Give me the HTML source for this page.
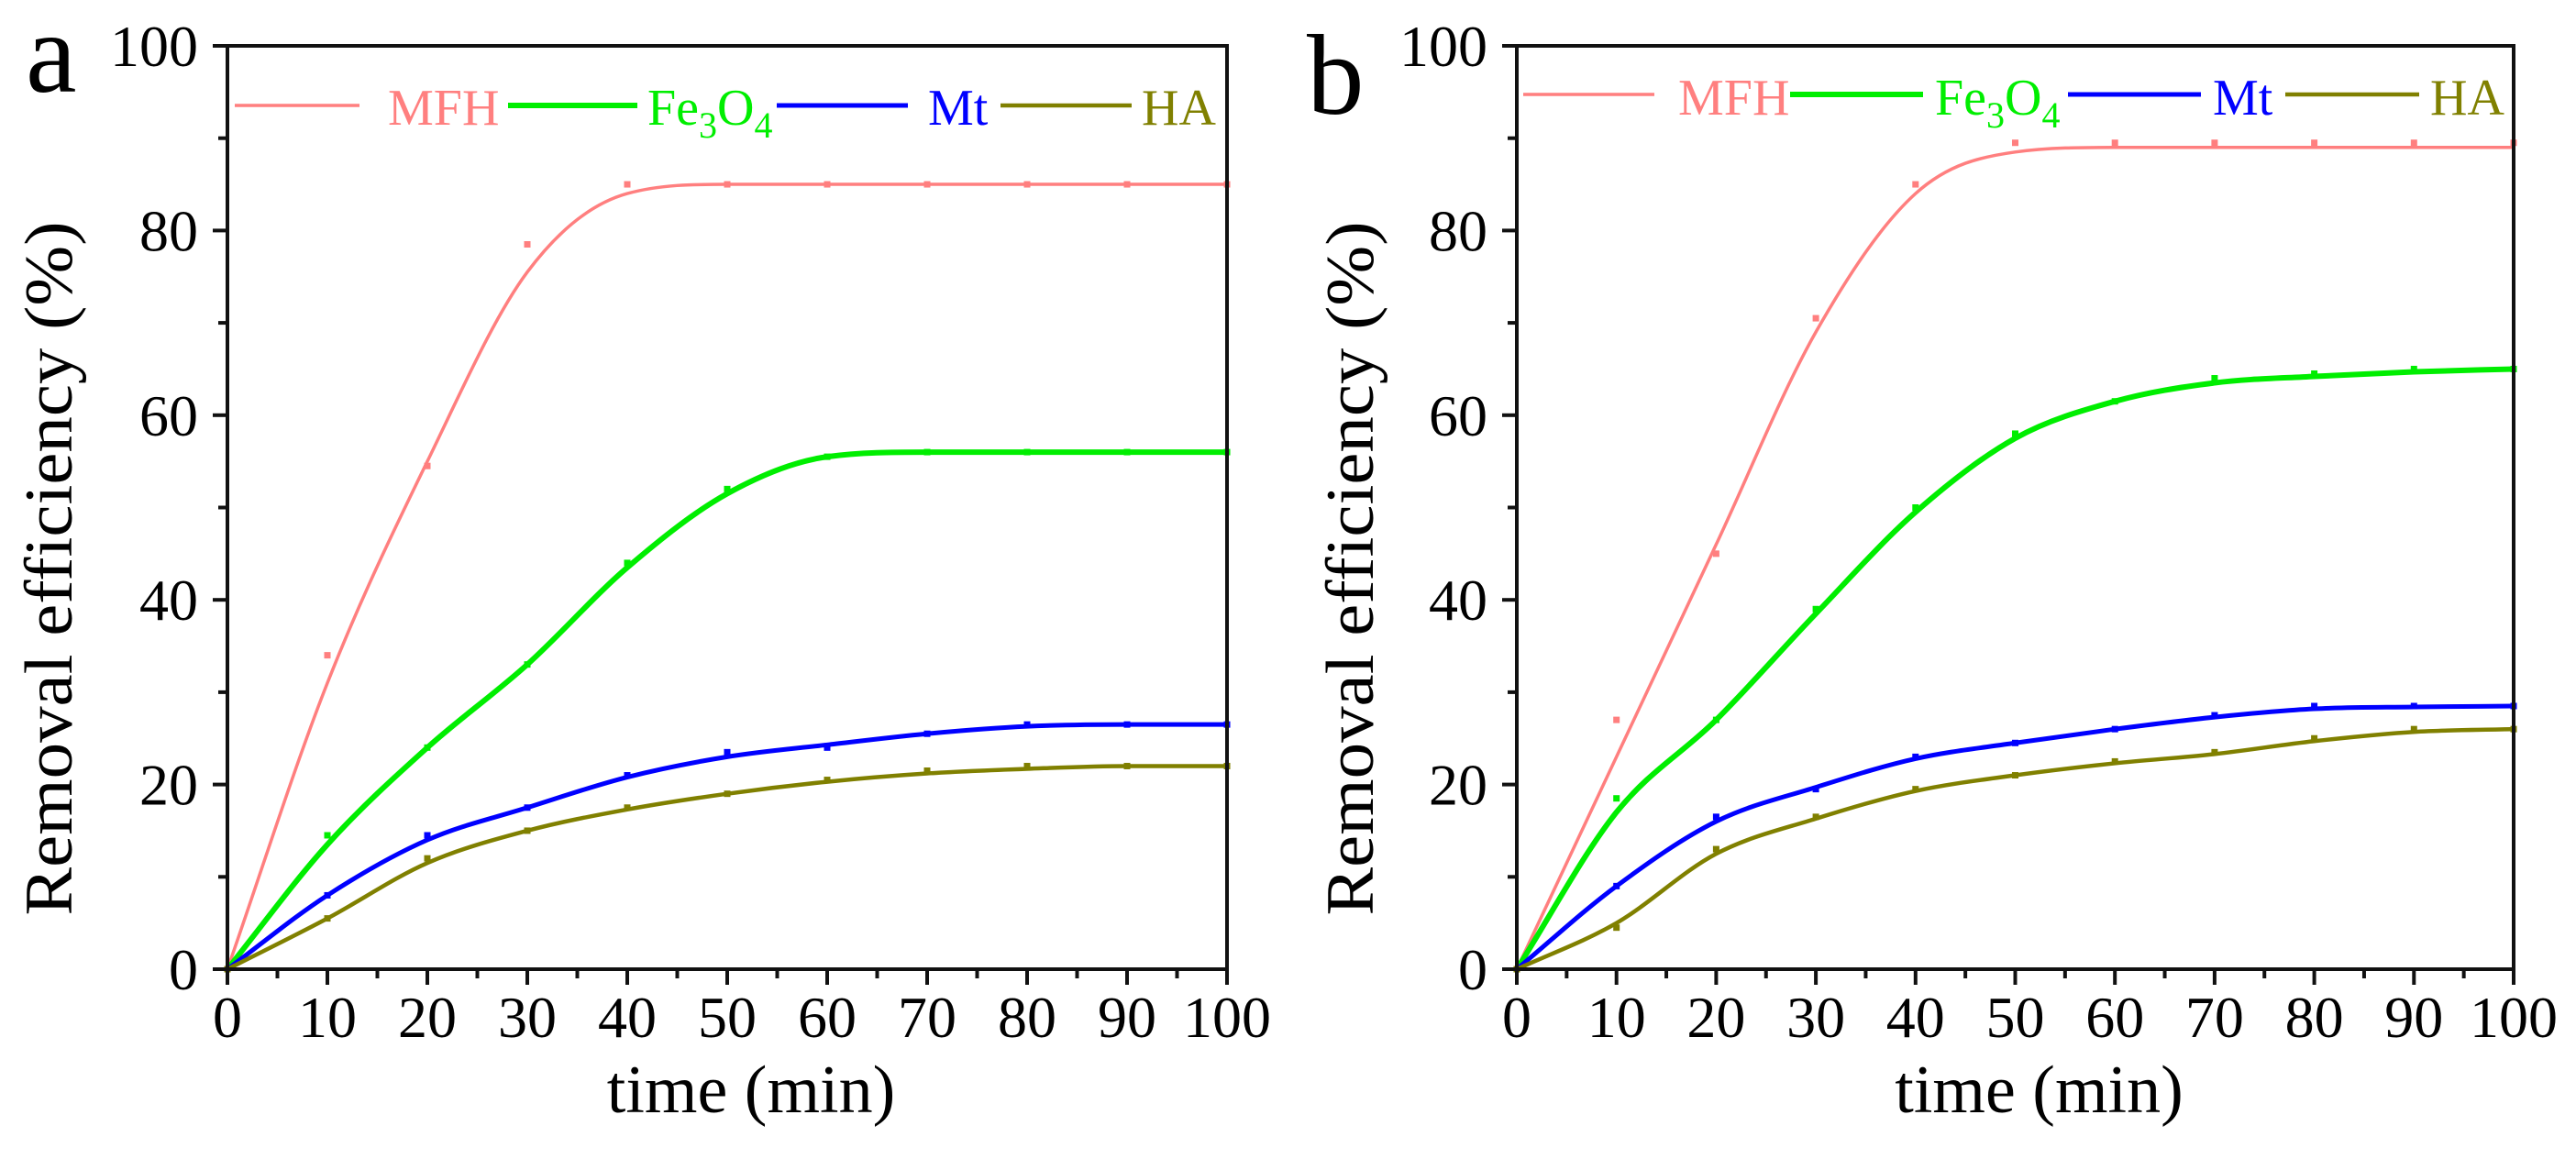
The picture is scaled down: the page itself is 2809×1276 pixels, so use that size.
<!DOCTYPE html>
<html><head><meta charset="utf-8"><style>
html,body{margin:0;padding:0;background:#fff}
svg{display:block}
text{font-family:"Liberation Serif",serif}
</style></head><body>
<svg id="fig" width="2809" height="1276" xmlns="http://www.w3.org/2000/svg">
<rect width="2809" height="1276" fill="#fff"/>
</svg>
<script>
const times=[0,10,20,30,40,50,60,70,80,90,100];
// measured points
const aMFH=[0,34,54.5,78.5,85,85,85,85,85,85,85];
const aFe=[0,14.5,24,33,44,52,55.5,56,56,56,56];
const aMt=[0,8,14.5,17.5,21,23.5,24,25.5,26.5,26.5,26.5];
const aHA=[0,5.5,12,15,17.5,19,20.5,21.5,22,22,22];
const bMFH=[0,27,45,70.5,85,89.5,89.5,89.5,89.5,89.5,89.5];
const bFe=[0,18.5,27,39,50,58,61.5,64,64.5,65,65];
const bMt=[0,9,16.5,19.5,23,24.5,26,27.5,28.5,28.5,28.5];
const bHA=[0,4.5,13,16.5,19.5,21,22.5,23.5,25,26,26];
// fitted curves
const aMFHfit=[0,31,55,75.5,84,85,85,85,85,85,85];
const aFefit=[0,13.5,24,33,43.5,51.5,55.5,56,56,56,56];
const aMtfit=[0,8,14,17.5,20.8,23,24.3,25.5,26.3,26.5,26.5];
const aHAfit=[0,5.5,11.5,15,17.3,19,20.3,21.2,21.7,22,22];
const bMFHfit=[0,23,46,69,84,88.5,89,89,89,89,89];
const bFefit=[0,17,27,38.5,49.5,57.5,61.5,63.5,64.2,64.7,65];
const bMtfit=[0,9,16,19.7,22.8,24.5,26,27.3,28.2,28.4,28.5];
const bHAfit=[0,5,12.5,16.3,19.3,21,22.3,23.3,24.7,25.7,26];
const xTicks=[0,10,20,30,40,50,60,70,80,90,100];
const yTicks=[0,20,40,60,80,100];
const seriesNames=["MFH","Fe3O4","Mt","HA"];

const NS="http://www.w3.org/2000/svg";
const svg=document.getElementById('fig');
function mk(tag,attrs,parent){const e=document.createElementNS(NS,tag);for(const k in attrs)e.setAttribute(k,attrs[k]);(parent||svg).appendChild(e);return e;}

const colors=["#ff7f7f","#00ee00","#0000ff","#808000"];
const widths=[3.5,6,5,4.5];
const panels=[
 {id:'a',x0:248,x1:1338,y0:1057,y1:50,data:[aMFH,aFe,aMt,aHA],fit:[aMFHfit,aFefit,aMtfit,aHAfit],letterX:28,letterY:100,ylabX:78,
  leg:{y:115,tb:136,items:[[256,392,423],[554,695,706],[847,990,1012],[1091,1234,1245]]}},
 {id:'b',x0:1654,x1:2741,y0:1057,y1:50,data:[bMFH,bFe,bMt,bHA],fit:[bMFHfit,bFefit,bMtfit,bHAfit],letterX:1425,letterY:124,ylabX:1497,
  leg:{y:103,tb:125,items:[[1661,1804,1830],[1952,2097,2110],[2255,2400,2413],[2492,2638,2650]]}}
];

// monotone cubic (Fritsch-Carlson)
function monoPath(pts){
  const n=pts.length,dx=[],s=[],m=[];
  for(let i=0;i<n-1;i++){dx[i]=pts[i+1][0]-pts[i][0];s[i]=(pts[i+1][1]-pts[i][1])/dx[i];}
  m[0]=s[0];m[n-1]=s[n-2];
  for(let i=1;i<n-1;i++){m[i]=(s[i-1]*s[i]<=0)?0:(s[i-1]+s[i])/2;}
  for(let i=0;i<n-1;i++){
    if(s[i]===0){m[i]=0;m[i+1]=0;continue;}
    const a=m[i]/s[i],b=m[i+1]/s[i],h=a*a+b*b;
    if(h>9){const t=3/Math.sqrt(h);m[i]=t*a*s[i];m[i+1]=t*b*s[i];}
  }
  let d=`M${pts[0][0]},${pts[0][1]}`;
  for(let i=0;i<n-1;i++){
    const h=dx[i]/3;
    d+=` C${pts[i][0]+h},${pts[i][1]+m[i]*h} ${pts[i+1][0]-h},${pts[i+1][1]-m[i+1]*h} ${pts[i+1][0]},${pts[i+1][1]}`;
  }
  return d;
}

panels.forEach(p=>{
  const g=mk('g',{});
  
  
  const X=v=>p.x0+(v/100)*(p.x1-p.x0);
  const Y=v=>p.y0-(v/100)*(p.y0-p.y1);
  const L=mk('text',{x:p.letterX,y:p.letterY,'font-size':125},g);L.textContent=p.id;
  
  
  p.data.forEach((arr,si)=>{
    const fpts=times.map((t,i)=>[X(t),Y(p.fit[si][i])]);
    const path=mk('path',{d:monoPath(fpts),fill:'none',stroke:colors[si],'stroke-width':widths[si],'stroke-linejoin':'round'},g);
    
    
    times.forEach((t,i)=>{
      const c=mk('rect',{x:X(t)-3.5,y:Y(arr[i])-3.5,width:7,height:7,fill:colors[si]},g);
      
      
    });
  });
  const fr=mk('rect',{x:p.x0,y:p.y1,width:p.x1-p.x0,height:p.y0-p.y1,fill:'none',stroke:'#111','stroke-width':4},g);
  
  
  for(let v=0;v<=100;v+=10){
    const major=v%20===0;
    const t=mk('line',{x1:p.x0-(major?16:10),x2:p.x0,y1:Y(v),y2:Y(v),stroke:'#111','stroke-width':4},g);
    
    
  }
  yTicks.forEach(v=>{
    const t=mk('text',{x:p.x0-32,y:Y(v)+22,'font-size':64,'text-anchor':'end'},g);t.textContent=v;
    
    
  });
  for(let v=0;v<=100;v+=5){
    const major=v%10===0;
    const t=mk('line',{x1:X(v),x2:X(v),y1:p.y0,y2:p.y0+(major?17:10),stroke:'#111','stroke-width':4},g);
    
    
  }
  xTicks.forEach(v=>{
    const t=mk('text',{x:X(v),y:1131,'font-size':64,'text-anchor':'middle'},g);t.textContent=v;
    
    
  });
  const yl=mk('text',{x:p.ylabX,y:620,'font-size':74,'text-anchor':'middle',transform:`rotate(-90 ${p.ylabX} 620)`,textLength:757,lengthAdjust:'spacingAndGlyphs'},g);
  yl.textContent='Removal efficiency (%)';
  
  
  const xl=mk('text',{x:(p.x0+p.x1)/2+26,y:1213,'font-size':74,'text-anchor':'middle'},g);
  xl.textContent='time (min)';
  
  
  p.leg.items.forEach((it,si)=>{
    const ln=mk('line',{x1:it[0],x2:it[1],y1:p.leg.y,y2:p.leg.y,stroke:colors[si],'stroke-width':widths[si]},g);
    
    
    const tx=mk('text',{x:it[2],y:p.leg.tb,'font-size':56,fill:colors[si]},g);
    if(si===1){
      tx.appendChild(document.createTextNode('Fe'));
      const s1=mk('tspan',{'font-size':40,dy:14},tx);s1.textContent='3';
      const s2=mk('tspan',{'font-size':56,dy:-14},tx);s2.textContent='O';
      const s3=mk('tspan',{'font-size':40,dy:14},tx);s3.textContent='4';
    } else tx.textContent=seriesNames[si];
    
    
  });
});
</script>
</body></html>
